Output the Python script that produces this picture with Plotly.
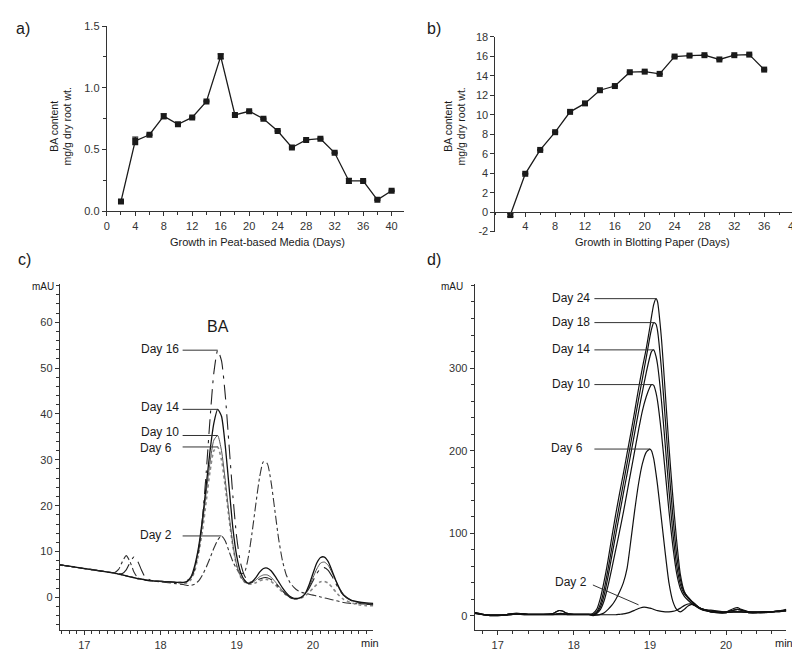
import plotly.graph_objects as go
import numpy as np

FONT = "Arial, Liberation Sans, sans-serif"
W, H = 800, 652
INK = "#1a1a1a"
AX = "#333333"

# ---------------- Panel a data ----------------
a_days = [2, 4, 6, 8, 10, 12, 14, 16, 18, 20, 22, 24, 26, 28, 30, 32, 34, 36, 38, 40]
a_vals = [0.08, 0.57, 0.62, 0.77, 0.705, 0.76, 0.89, 1.255, 0.78, 0.81, 0.75, 0.65,
          0.517, 0.578, 0.588, 0.474, 0.246, 0.246, 0.093, 0.167]
a_err = [0.005, 0.03, 0.005, 0.02, 0.005, 0.005, 0.005, 0.02, 0.005, 0.005, 0.005, 0.005,
         0.005, 0.005, 0.005, 0.005, 0.02, 0.005, 0.005, 0.005]

# ---------------- Panel b data ----------------
b_days = [2, 4, 6, 8, 10, 12, 14, 16, 18, 20, 22, 24, 26, 28, 30, 32, 34, 36]
b_vals = [-0.3, 3.94, 6.39, 8.21, 10.30, 11.17, 12.52, 12.95, 14.37, 14.43, 14.2,
          15.98, 16.08, 16.12, 15.68, 16.12, 16.18, 14.64]
b_err = [0.15, 0.05, 0.05, 0.05, 0.05, 0.05, 0.05, 0.05, 0.05, 0.05, 0.05,
         0.05, 0.05, 0.05, 0.05, 0.05, 0.05, 0.05]

# ---------------- Panel c data (chromatograms, peat) ----------------
c_time = [16.68, 16.8, 17.0, 17.2, 17.4, 17.45, 17.5, 17.55, 17.6, 17.65, 17.7, 17.75, 17.8,
          17.9, 18.0, 18.1, 18.2,
          18.3, 18.35, 18.4, 18.45, 18.5, 18.55, 18.6, 18.65, 18.7, 18.75, 18.8, 18.85, 18.9,
          18.95, 19.0, 19.05, 19.1, 19.15, 19.2, 19.25, 19.3, 19.35, 19.4, 19.45, 19.5, 19.55,
          19.6, 19.65, 19.7, 19.75,
          19.8, 19.85, 19.9, 19.95, 20.0, 20.05, 20.1, 20.15, 20.2, 20.25, 20.3, 20.35, 20.4,
          20.5, 20.6, 20.7, 20.79]
c_base = [7.1, 6.8, 6.3, 5.8, 5.3, 5.1, 4.9, 4.7, 4.5, 4.3, 4.1, 4.0, 3.8, 3.6, 3.5, 3.4, 3.3]

c_day2 = ([7.1, 6.8, 6.3, 5.8, 5.45, 6.1, 7.8, 9.1, 7.8, 5.6, 4.3, 4.0, 3.8, 3.6, 3.4, 3.2, 3.0] +
          [2.8, 2.6, 2.6, 2.9, 3.6, 4.9, 6.6, 8.6, 10.7, 12.5, 13.4, 12.3, 10.0, 7.8, 6.2, 5.2,
           5.4, 8.6, 14.0, 20.3, 26.2, 29.6, 29.2, 25.2, 19.0, 12.7, 8.0, 4.9, 3.2, 2.2] +
          [1.5, 1.1, 0.9, 0.7, 0.5, 0.3, 0.1, -0.1, -0.3, -0.5, -0.7, -0.9, -1.1] +
          [-1.3, -1.4, -1.4, -1.4])
c_day6 = (c_base +
          [3.0, 3.2, 3.9, 5.8, 9.5, 14.5, 21.0, 27.5, 32.0, 32.8, 30.0, 24.0, 17.0, 11.0, 6.8,
           4.5, 3.4, 2.9, 2.9, 3.2, 3.6, 3.9, 3.9, 3.5, 2.8, 2.0, 1.2, 0.5, 0.0, -0.3] +
          [-0.3, -0.1, 0.4, 1.1, 2.0, 2.8, 3.4, 3.5, 3.1, 2.2, 1.2, 0.3, -0.4] +
          [-1.2, -1.6, -1.8, -1.8])
c_day10 = (c_base +
           [3.2, 3.4, 4.2, 6.5, 10.5, 16.0, 23.0, 29.5, 34.3, 35.3, 32.0, 25.5, 18.0, 11.5, 7.0,
            4.6, 3.4, 3.0, 3.2, 3.8, 4.5, 4.9, 4.9, 4.4, 3.5, 2.5, 1.5, 0.7, 0.1, -0.3] +
           [-0.3, 0.0, 0.8, 2.3, 4.3, 6.2, 7.5, 7.7, 7.0, 5.4, 3.6, 2.0, 0.7] +
           [-0.6, -1.2, -1.4, -1.5])
c_day14 = (c_base +
           [3.3, 3.5, 4.5, 7.0, 11.0, 17.0, 24.5, 32.0, 38.0, 41.0, 39.5, 33.0, 24.0, 15.0, 9.0,
            5.5, 3.8, 3.1, 3.4, 4.3, 5.5, 6.3, 6.4, 5.8, 4.7, 3.4, 2.1, 1.0, 0.2, -0.2] +
           [-0.2, 0.1, 0.9, 2.8, 5.2, 7.5, 8.7, 8.8, 7.8, 5.8, 3.7, 1.8, 0.5] +
           [-0.6, -1.0, -1.2, -1.3])
c_day16 = ([7.1, 6.8, 6.3, 5.8, 5.3, 5.1, 5.2, 6.0, 7.6, 8.8, 7.9, 6.0, 4.4, 3.6, 3.5, 3.4, 3.3] +
           [3.3, 3.7, 4.4, 6.2, 10.2, 17.2, 27.3, 39.0, 49.0, 53.9, 51.6, 44.0, 33.0, 22.0, 13.0,
            7.5, 4.8, 3.5, 3.3, 3.6, 4.0, 4.3, 4.3, 3.9, 3.2, 2.3, 1.4, 0.6, 0.0, -0.3] +
           [-0.3, 0.0, 0.7, 2.0, 3.6, 5.2, 6.3, 6.5, 5.9, 4.6, 3.0, 1.6, 0.5] +
           [-0.7, -1.2, -1.5, -1.6])

# ---------------- Panel d data (chromatograms, blotting paper) ----------------
d_time = [16.7, 16.8, 16.9, 17.0, 17.1, 17.2, 17.3, 17.4, 17.5, 17.6, 17.7, 17.75, 17.8, 17.85,
          17.9, 18.0, 18.1, 18.2,
          18.25, 18.3, 18.35, 18.4, 18.45, 18.5, 18.55, 18.6, 18.65, 18.7, 18.75, 18.8, 18.85,
          18.9, 18.95, 19.0,
          19.02, 19.05, 19.08, 19.1,
          19.15, 19.2, 19.25, 19.3, 19.35, 19.4, 19.45, 19.5, 19.55, 19.6, 19.65, 19.7,
          19.8, 19.9, 20.0, 20.1, 20.15, 20.2, 20.3, 20.4, 20.5, 20.6, 20.7, 20.79]
d_lead1 = [4, 2, 1, 1, 1.5, 2.5, 2.5, 2, 2, 2, 2.5, 4, 6.5, 6, 3.5, 2, 2, 2]
d_lead2 = [4, 2, 1, 1, 1.5, 3, 3, 2, 2, 2, 2, 2, 2.5, 2.5, 2, 2, 2, 2]
d_lead3 = [3, 1.5, 0.5, 0.5, 1, 2, 2, 1.5, 1.5, 1.5, 1.5, 2, 3, 3, 2, 1.5, 1.5, 1.5]
d_tail1 = [6, 5, 5, 7, 8, 7, 5, 5, 5, 5, 6, 7]
d_tail2 = [7, 6, 5, 9, 10, 8, 5, 4, 4, 5, 6, 8]
d_tail3 = [5, 4, 4, 5, 5, 5, 4, 4, 5, 5, 6, 6]

d_day24 = (d_lead2 +
           [3, 8, 22, 43, 68, 96, 123, 148, 172, 197, 222, 248, 275, 300, 323, 350] +
           [362, 377, 384, 380] +
           [337, 272, 205, 145, 92, 50, 30, 22, 17, 13, 10, 8] + d_tail1)
d_day18 = (d_lead1 +
           [2, 5, 15, 33, 57, 83, 110, 135, 160, 185, 210, 236, 262, 287, 312, 338] +
           [347, 355, 353, 345] +
           [300, 240, 178, 122, 75, 44, 29, 23, 18, 14, 10, 8] + d_tail2)
d_day14 = (d_lead3 +
           [1, 4, 11, 26, 48, 73, 98, 123, 148, 172, 197, 222, 247, 271, 294, 314] +
           [320, 322, 314, 304] +
           [262, 208, 152, 102, 62, 38, 27, 22, 17, 13, 10, 8] + d_tail3)
d_day10 = (d_lead2 +
           [1, 3, 8, 19, 37, 58, 80, 102, 125, 150, 175, 200, 225, 248, 265, 277] +
           [280, 279, 270, 260] +
           [222, 175, 127, 85, 52, 33, 24, 19, 15, 12, 9, 7] + d_tail1)
d_day6 = (d_lead1 +
          [0.5, 1, 2, 4, 8, 13, 20, 29, 40, 58, 92, 128, 160, 184, 198, 202] +
          [200, 190, 172, 158] +
          [118, 77, 40, 18, 8, 5, 8, 12, 14, 12, 9, 7] + d_tail3)
d_day2 = ([3, 1.5, 0.5, 0.5, 1, 2, 2, 1.5, 1.5, 1.5, 1.5, 1.5, 1.5, 1.5, 1.5, 1.5, 1.5, 1.5] +
          [1.5, 1.5, 1.5, 1.5, 1.5, 1.5, 1.5, 2, 2.5, 3.5, 5, 7, 9, 10.5, 10.5, 9.5] +
          [9, 8, 7, 6.5] +
          [5.5, 5, 5, 5.5, 7, 9.5, 12.5, 14.5, 14.5, 12.5, 10, 8] +
          [5, 4, 4, 5, 5, 5, 4, 4, 4, 5, 5, 6])

a_xticks = [0, 4, 8, 12, 16, 20, 24, 28, 32, 36, 40]
a_yticks = [0, 0.5, 1.0, 1.5]
b_xticks = [4, 8, 12, 16, 20, 24, 28, 32, 36, 40]
b_yticks = [-2, 0, 2, 4, 6, 8, 10, 12, 14, 16, 18]
chrom_xticks = [17, 18, 19, 20]
c_yticks = [0, 10, 20, 30, 40, 50, 60]
d_yticks = [0, 100, 200, 300]


def px(x):
    return x / W


def py(y):
    return 1 - y / H


fig = go.Figure()

# a
fig.add_trace(go.Scatter(
    x=a_days, y=a_vals, mode="lines+markers", xaxis="x", yaxis="y",
    line=dict(color=INK, width=1.3),
    marker=dict(symbol="square", size=6, color=INK),
    error_y=dict(type="data", array=a_err, color=INK, thickness=1.2, width=3),
    showlegend=False))

# b
fig.add_trace(go.Scatter(
    x=b_days, y=b_vals, mode="lines+markers", xaxis="x2", yaxis="y2",
    line=dict(color=INK, width=1.3),
    marker=dict(symbol="square", size=6, color=INK),
    error_y=dict(type="data", array=b_err, color=INK, thickness=1.2, width=3),
    showlegend=False, cliponaxis=False))

# c
c_series = [
    ("Day 2", c_day2, dict(color="#333333", width=1.1, dash="dashdot")),
    ("Day 6", c_day6, dict(color="#888888", width=1.6, dash="dot")),
    ("Day 10", c_day10, dict(color="#555555", width=1.0, dash="solid")),
    ("Day 14", c_day14, dict(color="#111111", width=1.3, dash="solid")),
    ("Day 16", c_day16, dict(color="#222222", width=1.1, dash="longdashdot")),
]
for name, vals, ln in c_series:
    fig.add_trace(go.Scatter(x=c_time, y=vals, mode="lines", xaxis="x3", yaxis="y3",
                             line=dict(shape="spline", smoothing=0.6, **ln),
                             name=name, showlegend=False))

# d
d_series = [
    ("Day 2", d_day2), ("Day 6", d_day6), ("Day 10", d_day10),
    ("Day 14", d_day14), ("Day 18", d_day18), ("Day 24", d_day24),
]
for name, vals in d_series:
    fig.add_trace(go.Scatter(x=d_time, y=vals, mode="lines", xaxis="x4", yaxis="y4",
                             line=dict(color="#111111", width=1.2, shape="spline", smoothing=0.6),
                             name=name, showlegend=False))

annotations = []
shapes = []
LBL = 12


def label_line(xref, yref, text, x_text, x_line0, xp, yp, yshift=0):
    shapes.append(dict(type="line", xref=xref, yref=yref, x0=x_line0, x1=xp, y0=yp, y1=yp,
                       line=dict(color="#333333", width=1)))
    annotations.append(dict(xref=xref, yref=yref, x=x_text, y=yp, text=text, showarrow=False,
                            xanchor="right", yanchor="middle", yshift=yshift,
                            font=dict(family=FONT, size=LBL, color=INK)))


def peak(times, vals, lo, hi):
    t = np.array(times)
    v = np.array(vals)
    m = (t >= lo) & (t <= hi)
    i = np.argmax(np.where(m, v, -1e9))
    return float(t[i]), float(v[i])


# c labels
c_shift = {"Day 16": 1, "Day 14": 2, "Day 10": 3, "Day 6": -1, "Day 2": 1}
for name, vals, _ in c_series:
    xp, yp = peak(c_time, vals, 18.5, 19.0)
    xt = 18.27 if name in ("Day 16", "Day 14", "Day 10") else 18.18
    label_line("x3", "y3", name, xt, 18.29, xp, yp, yshift=c_shift[name])
annotations.append(dict(xref="x3", yref="y3", x=18.76, y=59.0, text="BA", showarrow=False,
                        xanchor="center", yanchor="middle",
                        font=dict(family=FONT, size=16, color=INK)))

# d labels
for name, vals in d_series:
    if name == "Day 2":
        xp, yp = peak(d_time, vals, 18.7, 19.1)
        shapes.append(dict(type="line", xref="x4", yref="y4", x0=18.25, y0=37.5,
                           x1=xp - 0.05, y1=yp + 3, line=dict(color="#333333", width=1)))
        annotations.append(dict(xref="x4", yref="y4", x=18.2, y=41, text="Day 2",
                                showarrow=False, xanchor="right", yanchor="middle",
                                font=dict(family=FONT, size=LBL, color=INK)))
        continue
    xp, yp = peak(d_time, vals, 18.8, 19.2)
    xt = 18.236 if name != "Day 6" else 18.15
    label_line("x4", "y4", name, xt, 18.27, xp, yp, yshift=1)
annotations.append(dict(xref="x4", yref="y4", x=19.08, y=403, text="BA", showarrow=False,
                        xanchor="center", yanchor="bottom",
                        font=dict(family=FONT, size=15, color=INK)))

# panel labels and texts
for t, x, y in [("a)", 3, 15), ("b)", 418, 15), ("c)", 5, 250), ("d)", 418, 250)]:
    annotations.append(dict(xref="paper", yref="paper", x=px(x), y=py(y), text=t,
                            showarrow=False, xanchor="left", yanchor="middle",
                            font=dict(family=FONT, size=16, color=INK)))
for x, y in [(32, 277.7), (445, 277.7)]:
    annotations.append(dict(xref="paper", yref="paper", x=px(x), y=py(y), text="mAU",
                            showarrow=False, xanchor="center", yanchor="middle",
                            font=dict(family=FONT, size=10, color=INK)))
for x, y in [(363, 640.7), (781, 640.7)]:
    annotations.append(dict(xref="paper", yref="paper", x=px(x), y=py(y), text="min",
                            showarrow=False, xanchor="center", yanchor="middle",
                            font=dict(family=FONT, size=11, color=INK)))
for x in (50, 448):
    annotations.append(dict(xref="paper", yref="paper", x=px(x), y=py(115),
                            text="BA content<br>mg/g dry root wt.", textangle=-90,
                            xanchor="center", yanchor="middle",
                            showarrow=False, font=dict(family=FONT, size=10.5, color=INK)))
annotations.append(dict(xref="paper", yref="paper", x=px(249), y=py(232),
                        text="Growth in Peat-based Media (Days)", showarrow=False,
                        xanchor="center", yanchor="middle",
                        font=dict(family=FONT, size=11, color=INK)))
annotations.append(dict(xref="paper", yref="paper", x=px(648), y=py(232),
                        text="Growth in Blotting Paper (Days)", showarrow=False,
                        xanchor="center", yanchor="middle",
                        font=dict(family=FONT, size=11, color=INK)))

tickfont = dict(family=FONT, size=11, color="#333333")
common = dict(showline=True, linecolor=AX, linewidth=1, ticks="outside", ticklen=4,
              tickcolor=AX, tickwidth=1, showgrid=False, zeroline=False, tickfont=tickfont)


def minor(d, tick0=0):
    return dict(ticks="outside", ticklen=2.5, tickcolor=AX, dtick=d, tick0=tick0, showgrid=False)


fig.update_layout(
    width=W, height=H, margin=dict(l=0, r=0, t=0, b=0),
    paper_bgcolor="white", plot_bgcolor="white", showlegend=False,
    xaxis=dict(domain=[px(96.7), px(396.7)], range=[0, 41.7], anchor="y",
               tickvals=a_xticks, minor=minor(2), **common),
    yaxis=dict(domain=[py(201), py(12.3)], range=[0, 1.5], anchor="x",
               tickvals=a_yticks, ticktext=[f"{v:.1f}" for v in a_yticks],
               minor=minor(0.25), **common),
    xaxis2=dict(domain=[px(489.3), px(791.7)], range=[0, 40.1], anchor="free",
                position=py(201.7), tickvals=b_xticks, minor=minor(2), **common),
    yaxis2=dict(domain=[py(221.7), py(23.3)], range=[-2, 18], anchor="x2",
                tickvals=b_yticks, ticktext=[str(v) for v in b_yticks], **common),
    xaxis3=dict(domain=[px(49.3), px(366)], range=[16.679, 20.792], anchor="y3",
                tickvals=chrom_xticks, minor=minor(0.1), **common),
    yaxis3=dict(domain=[py(628), py(275)], range=[-7.2, 68.34], anchor="x3",
                tickvals=c_yticks, minor=minor(2), **common),
    xaxis4=dict(domain=[px(468.3), px(783.3)], range=[16.696, 20.794], anchor="y4",
                tickvals=chrom_xticks, minor=minor(0.2), **common),
    yaxis4=dict(domain=[py(628), py(275)], range=[-17.5, 401.8], anchor="x4",
                tickvals=d_yticks, minor=minor(20), **common),
    annotations=annotations, shapes=shapes,
)

fig.write_html("out.html")
